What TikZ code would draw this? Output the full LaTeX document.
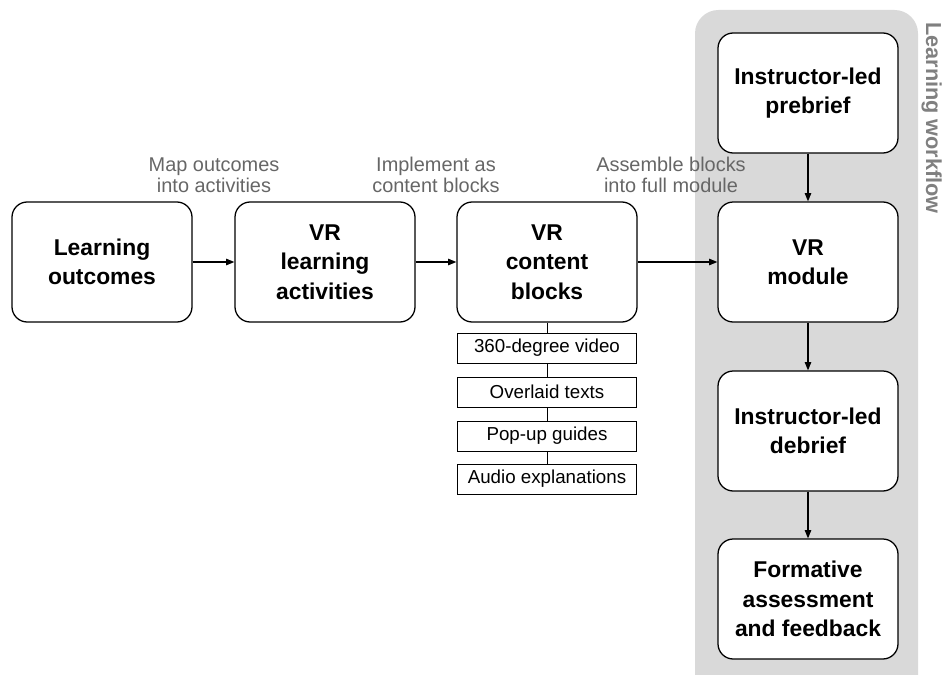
\documentclass[tikz,border=0pt]{standalone}
\usepackage{fontspec}
\setmainfont{Liberation Sans}
\usetikzlibrary{arrows.meta,positioning}
\definecolor{panelGray}{RGB}{217,217,217}
\definecolor{labelGray}{RGB}{102,102,102}
\definecolor{sideGray}{RGB}{128,128,128}

\begin{document}
\begin{tikzpicture}[x=0.03cm,y=-0.03cm,
  stage/.style={draw, line width=1.1pt, fill=white, rounded corners=13pt,
    minimum width=5.4cm, minimum height=3.6cm, align=center,
    font=\fontsize{19.5}{25}\selectfont\bfseries},
  part/.style={draw, line width=0.8pt, fill=white, minimum width=5.37cm,
    minimum height=0.9cm, inner sep=0pt, font=\fontsize{16}{18}\selectfont},
  steplabel/.style={text=labelGray, align=center, font=\fontsize{17}{18}\selectfont},
  flow/.style={line width=0.9pt, -{Triangle[length=7pt,width=5.5pt]}}]
\clip (0,0) rectangle (946,675);

% workflow panel
\fill[panelGray, rounded corners=20pt] (695,10) rectangle (918,720);
\node[rotate=-90, anchor=base west, inner sep=0pt, text=sideGray,
  font=\fontsize{18.5}{21}\selectfont\bfseries] (sidetitle) at (926,22) {Learning workflow};

% main chain
\node[stage] (outcomes) at (102,262) {Learning\\outcomes};
\node[stage] (activities) at (325,262) {VR\\learning\\activities};
\node[stage] (blocks) at (547,262) {VR\\content\\blocks};
\node[stage] (module) at (808,262) {VR\\module};

% workflow stages
\node[stage] (prebrief) at (808,93) {Instructor-led\\prebrief};
\node[stage] (debrief) at (808,431) {Instructor-led\\debrief};
\node[stage] (feedback) at (808,599) {Formative\\assessment\\and feedback};

% content block parts
\node[part] (video) at (547,348) {360-degree video};
\node[part] (texts) at (547,392) {Overlaid texts};
\node[part] (guides) at (547,436) {Pop-up guides};
\node[part] (audio) at (547,479) {Audio explanations};
\draw[line width=0.8pt] (blocks) -- (video);
\draw[line width=0.8pt] (video) -- (texts);
\draw[line width=0.8pt] (texts) -- (guides);
\draw[line width=0.8pt] (guides) -- (audio);

% step labels
\node[steplabel] (mapLabel) at (214,175) {Map outcomes\\into activities};
\node[steplabel] (implLabel) at (436,175) {Implement as\\content blocks};
\node[steplabel] (asmLabel) at (671,175) {Assemble blocks\\into full module};

% arrows
\draw[flow] (outcomes) -- (activities);
\draw[flow] (activities) -- (blocks);
\draw[flow] (blocks) -- (module);
\draw[flow] (prebrief) -- (module);
\draw[flow] (module) -- (debrief);
\draw[flow] (debrief) -- (feedback);
\end{tikzpicture}
\end{document}
